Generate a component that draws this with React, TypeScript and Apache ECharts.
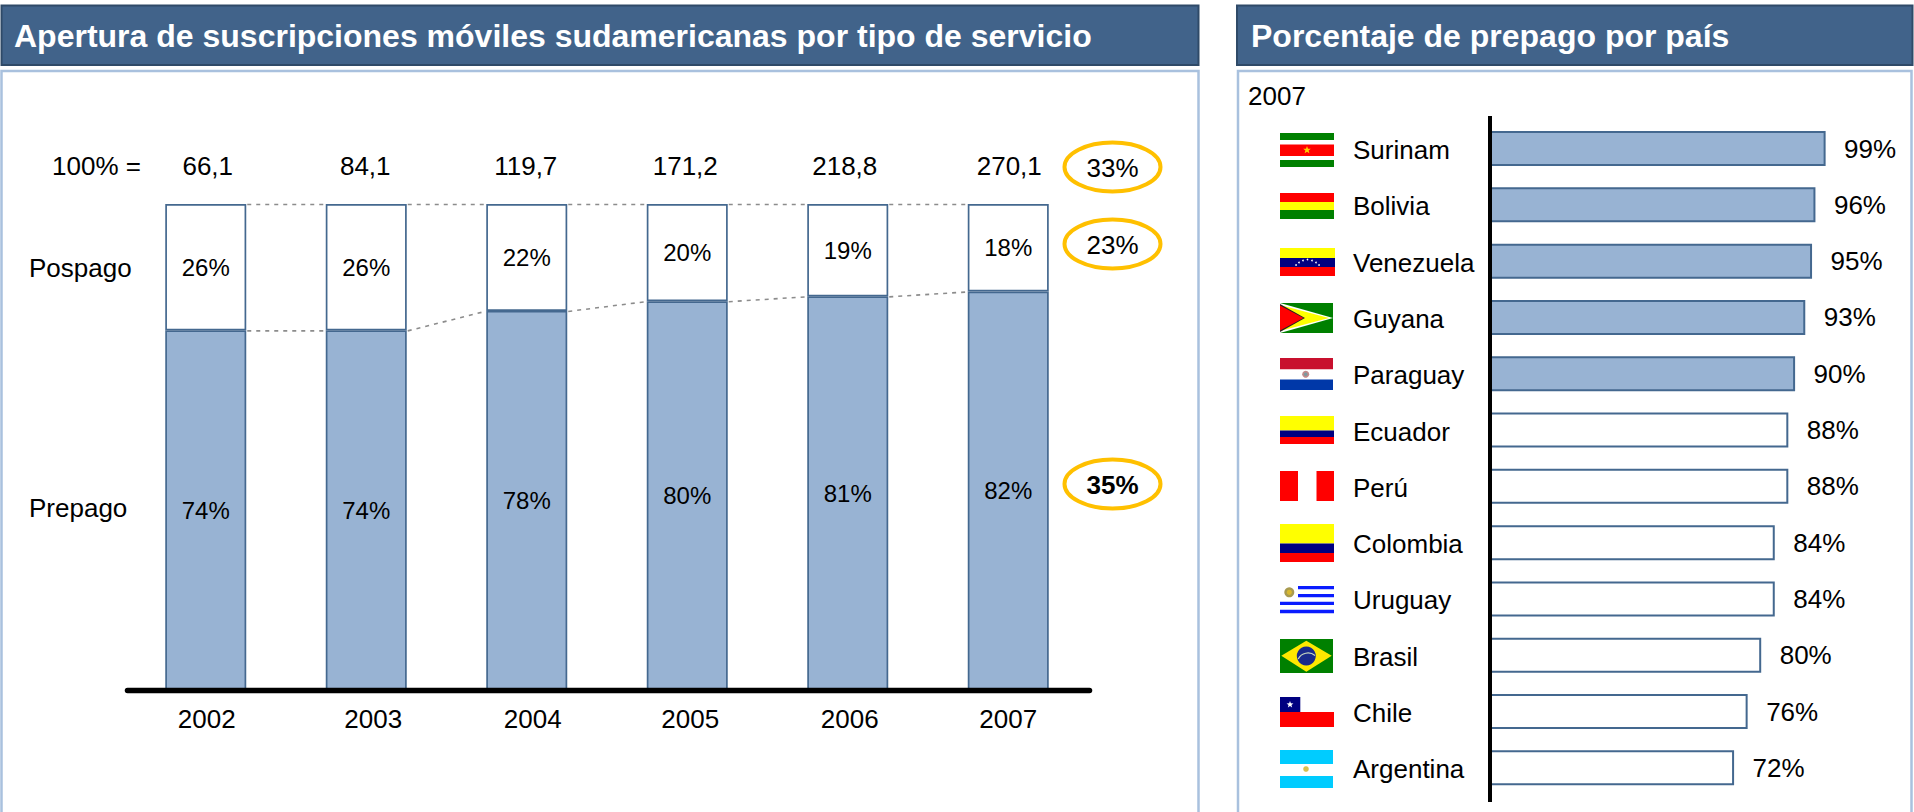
import React, { useEffect, useRef } from "react";
import * as echarts from "echarts";

const years = ["2002", "2003", "2004", "2005", "2006", "2007"];
const totals = ["66,1", "84,1", "119,7", "171,2", "218,8", "270,1"];
const prepago = [74, 74, 78, 80, 81, 82];
const pospago = [26, 26, 22, 20, 19, 18];
const countries = ["Surinam", "Bolivia", "Venezuela", "Guyana", "Paraguay", "Ecuador", "Perú", "Colombia", "Uruguay", "Brasil", "Chile", "Argentina"];
const prepaidShare = [99, 96, 95, 93, 90, 88, 88, 84, 84, 80, 76, 72];
const highlightedCountries = ["Surinam", "Bolivia", "Venezuela", "Guyana", "Paraguay"];
const growthBadges = ["33%", "23%", "35%"];
const titleLeft = "Apertura de suscripciones móviles sudamericanas por tipo de servicio";
const titleRight = "Porcentaje de prepago por país";

const FONT = "'Liberation Sans', Arial, sans-serif";
const FILL = "#98B3D3";
const EDGE = "#44688F";
const HEAD = "#41638A";
const PANEL = "#A9C1DE";
// the reference's hand-placed labels sit slightly off their bar centres
const yearShift = [1, 7, 6, 3, 2, 0];
const totalShift = [2, -1, -1, -2, -3, 1];

const rect = (x: number, y: number, width: number, height: number, fill: string) => ({ type: "rect", silent: true, shape: { x, y, width, height }, style: { fill } });
const poly = (points: number[][], fill: string) => ({ type: "polygon", silent: true, shape: { points }, style: { fill } });
const dot = (cx: number, cy: number, r: number, fill: string) => ({ type: "circle", silent: true, shape: { cx, cy, r }, style: { fill } });
const star = (cx: number, cy: number, r: number, fill: string) => {
  const points: number[][] = [];
  for (let i = 0; i < 10; i++) {
    const a = -Math.PI / 2 + (i * Math.PI) / 5;
    const q = i % 2 ? r * 0.42 : r;
    points.push([cx + q * Math.cos(a), cy + q * Math.sin(a)]);
  }
  return poly(points, fill);
};
const txt = (x: number, y: number, text: string, extra: any = {}) => ({
  type: "text", silent: true, x, y,
  style: { text, fontFamily: FONT, fontSize: 26, fill: "#000", textAlign: "left", textVerticalAlign: "middle", ...extra },
});

const RED = "#FF0000", YEL = "#FFFF00", GRN = "#008000", NAVY = "#000080", WHT = "#FFFFFF";

const flags = () => [
  // Surinam
  rect(1280, 133, 54, 34, GRN), rect(1280, 140, 54, 20, WHT), rect(1280, 144.5, 54, 11.5, RED), star(1307, 150, 4, "#FFD000"),
  // Bolivia
  rect(1280, 193, 54, 9, RED), rect(1280, 202, 54, 8, YEL), rect(1280, 210, 54, 9, GRN),
  // Venezuela
  rect(1280, 248, 55, 10, YEL), rect(1280, 258, 55, 9, NAVY), rect(1280, 267, 55, 9, RED),
  dot(1296, 265, 0.8, WHT), dot(1299, 262.5, 0.8, WHT), dot(1303, 260.5, 0.8, WHT), dot(1307.5, 259.5, 0.8, WHT), dot(1312, 260.5, 0.8, WHT), dot(1316, 262.5, 0.8, WHT), dot(1319, 265, 0.8, WHT),
  // Guyana
  rect(1280, 303, 53, 30, GRN), poly([[1280, 303], [1333, 318], [1280, 333]], WHT), poly([[1280, 305], [1329, 318], [1280, 331]], YEL),
  poly([[1280, 304], [1305, 318], [1280, 332]], "#222"), poly([[1280, 305.5], [1303.5, 318], [1280, 330.5]], RED),
  // Paraguay
  rect(1280, 358, 53, 11.5, "#C8102E"), rect(1280, 369.5, 53, 10, WHT), rect(1280, 379.5, 53, 10.5, "#0038A8"), dot(1305.7, 374.3, 3.5, "#C08A8A"), dot(1305.7, 374.3, 1.8, "#7A9AA0"),
  // Ecuador
  rect(1280, 416, 54, 14.5, YEL), rect(1280, 430.5, 54, 6.5, NAVY), rect(1280, 437, 54, 7, RED),
  // Perú
  rect(1280, 471, 18, 30, RED), rect(1316.5, 471, 17.5, 30, RED),
  // Colombia
  rect(1280, 524, 54, 19.5, YEL), rect(1280, 543.5, 54, 9.5, NAVY), rect(1280, 553, 54, 9, RED),
  // Uruguay
  rect(1298, 586, 36, 3.2, "#0A1CFF"), rect(1298, 594, 36, 3.3, "#0A1CFF"), rect(1280, 601.7, 54, 3.3, "#0A1CFF"), rect(1280, 609.7, 54, 3.6, "#0A1CFF"), dot(1289.3, 592.3, 5, "#A89A50"), dot(1289.3, 592.3, 2.6, "#D8B830"),
  // Brasil
  rect(1280, 639, 53, 34, GRN), poly([[1281.3, 655.7], [1306.3, 640.7], [1331.7, 655.7], [1306.3, 671.7]], "#FFE800"), dot(1306.3, 656, 9.5, "#1A2A8C"),
  { type: "arc", silent: true, shape: { cx: 1308, cy: 664, r: 11, startAngle: Math.PI * 1.15, endAngle: Math.PI * 1.72 }, style: { stroke: "#C8D8C0", lineWidth: 1.2, fill: "none" } },
  // Chile
  rect(1280, 712, 54, 15, RED), rect(1280, 697, 20.3, 15, NAVY), star(1290, 704.5, 3.6, WHT),
  // Argentina
  rect(1280, 750, 53, 38, "#00CCFF"), rect(1280, 764, 53, 12, WHT), dot(1306, 769, 2.8, "#D8C050"),
];

export default function App() {
  const ref = useRef<HTMLDivElement>(null);
  useEffect(() => {
    const chart = echarts.init(ref.current!, null, { renderer: "svg" });
    const connectors: number[][] = [];
    for (let i = 0; i < years.length - 1; i++) {
      connectors.push([i, 100, 100]);
      connectors.push([i, prepago[i], prepago[i + 1]]);
    }
    const BAR_W = 81;
    const label = { fontFamily: FONT, color: "#000" };
    const yearRich: any = {};
    yearShift.forEach((s, i) => {
      yearRich["y" + i] = { ...label, fontSize: 26, padding: [0, 0, 0, s * 2] };
    });
    chart.setOption({
      animation: false,
      backgroundColor: "#FFFFFF",
      textStyle: { fontFamily: FONT },
      title: [
        { text: titleLeft, left: 14, top: 20, padding: 0, textStyle: { color: "#fff", fontFamily: FONT, fontSize: 32, fontWeight: "bold", lineHeight: 32 } },
        { text: titleRight, left: 1251, top: 20, padding: 0, textStyle: { color: "#fff", fontFamily: FONT, fontSize: 32, fontWeight: "bold", lineHeight: 32 } },
      ],
      grid: [
        { left: 125.5, top: 204, width: 963, height: 486 },
        { left: 1490, top: 120.4, width: 339, height: 675.6 },
      ],
      xAxis: [
        {
          type: "category", gridIndex: 0, data: years,
          axisTick: { show: false },
          axisLine: { show: false },
          axisLabel: {
            ...label, fontSize: 26, margin: 16, interval: 0,
            formatter: (v: string, i: number) => `{y${i}|${v}}`,
            rich: yearRich,
          },
        },
        { type: "value", gridIndex: 1, min: 0, max: 100, show: false },
      ],
      yAxis: [
        { type: "value", gridIndex: 0, min: 0, max: 100, show: false },
        {
          type: "category", gridIndex: 1, data: countries, inverse: true,
          axisTick: { show: false }, axisLine: { show: false },
          axisLabel: {
            ...label, fontSize: 26, align: "left", margin: 137, interval: 0,
            formatter: (v: string) => `{c|${v}}`,
            rich: { c: { ...label, fontSize: 26, padding: [3, 0, 0, 0] } },
          },
        },
      ],
      series: [
        {
          name: "Prepago", type: "bar", stack: "s", xAxisIndex: 0, yAxisIndex: 0, barWidth: BAR_W, data: prepago,
          itemStyle: { color: FILL, borderColor: EDGE, borderWidth: 1.7 },
          label: { show: true, position: "inside", formatter: "{c}%", ...label, fontSize: 24 },
        },
        {
          name: "Pospago", type: "bar", stack: "s", xAxisIndex: 0, yAxisIndex: 0, barWidth: BAR_W, data: pospago,
          itemStyle: { color: "#fff", borderColor: EDGE, borderWidth: 1.7 },
          label: { show: true, position: "inside", formatter: "{c}%", ...label, fontSize: 24 },
        },
        {
          type: "custom", xAxisIndex: 0, yAxisIndex: 0, data: connectors, silent: true, z: 1,
          renderItem: (_p: any, api: any) => {
            const i = api.value(0);
            const a = api.coord([i, api.value(1)]);
            const b = api.coord([i + 1, api.value(2)]);
            return {
              type: "line",
              shape: { x1: a[0] + BAR_W / 2 + 1, y1: a[1] + 0.5, x2: b[0] - BAR_W / 2 - 1, y2: b[1] + 0.5 },
              style: { stroke: "#8C8C8C", lineWidth: 1.6, lineDash: [4, 5], fill: null },
            };
          },
        },
        {
          type: "custom", xAxisIndex: 0, yAxisIndex: 0, data: totals.map((_, i) => [i, 100]), silent: true,
          renderItem: (p: any, api: any) => {
            const c = api.coord([api.value(0), api.value(1)]);
            return {
              type: "text", x: c[0] + totalShift[p.dataIndex], y: c[1] - 38,
              style: { text: totals[p.dataIndex], fontFamily: FONT, fontSize: 26, fill: "#000", textAlign: "center", textVerticalAlign: "middle" },
            };
          },
        },
        {
          name: "Prepago por país", type: "bar", xAxisIndex: 1, yAxisIndex: 1, barWidth: 35,
          data: prepaidShare.map((value, i) => ({
            value,
            itemStyle: { color: highlightedCountries.includes(countries[i]) ? FILL : "#fff", borderColor: EDGE, borderWidth: 2 },
          })),
          label: { show: true, position: "right", distance: 18.5, formatter: "{c}%", ...label, fontSize: 26 },
        },
      ],
      graphic: [
        // header bands and panels
        { type: "rect", silent: true, z: -1, shape: { x: 1.5, y: 5.5, width: 1197, height: 59.5 }, style: { fill: HEAD, stroke: "#2F4A68", lineWidth: 2 } },
        { type: "rect", silent: true, z: -1, shape: { x: 1237, y: 5.5, width: 675.5, height: 59.5 }, style: { fill: HEAD, stroke: "#2F4A68", lineWidth: 2 } },
        { type: "rect", silent: true, z: -1, shape: { x: 1.5, y: 71, width: 1197, height: 780 }, style: { fill: "#fff", stroke: PANEL, lineWidth: 2.5 } },
        { type: "rect", silent: true, z: -1, shape: { x: 1238, y: 71, width: 673.5, height: 780 }, style: { fill: "#fff", stroke: PANEL, lineWidth: 2.5 } },
        // side captions
        txt(52, 166, "100% ="),
        txt(29, 268, "Pospago"),
        txt(29, 508, "Prepago"),
        txt(1248, 96, "2007"),
        // growth badges
        { type: "ellipse", silent: true, shape: { cx: 1112.5, cy: 167, rx: 48, ry: 24.5 }, style: { fill: "#fff", stroke: "#FFC000", lineWidth: 4 } },
        { type: "ellipse", silent: true, shape: { cx: 1112.5, cy: 244, rx: 48, ry: 24.5 }, style: { fill: "#fff", stroke: "#FFC000", lineWidth: 4 } },
        { type: "ellipse", silent: true, shape: { cx: 1112.5, cy: 484, rx: 48, ry: 24.5 }, style: { fill: "#fff", stroke: "#FFC000", lineWidth: 4 } },
        { ...txt(1112.5, 168, growthBadges[0], { textAlign: "center" }), z: 2 },
        { ...txt(1112.5, 245, growthBadges[1], { textAlign: "center" }), z: 2 },
        { ...txt(1112.5, 485, growthBadges[2], { textAlign: "center", fontWeight: "bold" }), z: 2 },
        // baselines
        { type: "line", silent: true, z: 5, shape: { x1: 127.5, y1: 690.5, x2: 1089.5, y2: 690.5 }, style: { stroke: "#000", lineWidth: 5.5, lineCap: "round" } },
        { type: "line", silent: true, z: 5, shape: { x1: 1490, y1: 116, x2: 1490, y2: 802 }, style: { stroke: "#000", lineWidth: 4 } },
        ...flags(),
      ],
    });
    return () => chart.dispose();
  }, []);
  return <div ref={ref} style={{ position: "fixed", left: 0, top: 0, width: 1914, height: 812 }} />;
}
